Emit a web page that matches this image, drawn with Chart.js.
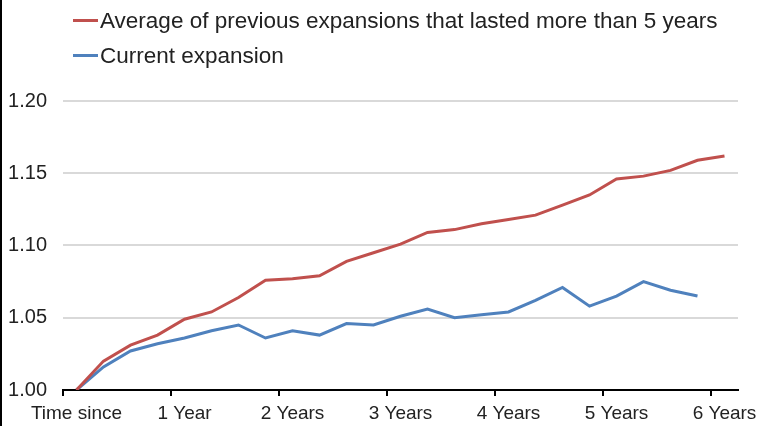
<!DOCTYPE html>
<html>
<head>
<meta charset="utf-8">
<script src="https://cdn.jsdelivr.net/npm/chart.js@4"></script>
<style>
  html, body { margin: 0; padding: 0; background: #fff; }
  #wrap { position: relative; width: 759px; height: 426px; }
  #edge { position: absolute; left: 0; top: 0; width: 2px; height: 426px; background: #000; }
  #legend { position: absolute; left: 73px; top: 3px; font-family: 'Liberation Sans', Arial, sans-serif; font-size: 22.5px; color: #222; }
  .item { display: flex; align-items: center; height: 35px; }
  .swatch { display: inline-block; width: 25px; height: 3px; margin-right: 2px; }
</style>
</head>
<body>
<div id="wrap">
  <canvas id="expansion-chart" width="759" height="426"></canvas>
  <div id="legend"></div>
  <div id="edge"></div>
</div>
<script>
// Quarters since the start of the expansion (0..24)
const quarterLabels = ['Time since', '', '', '', '1 Year', '', '', '', '2 Years', '', '', '', '3 Years',
  '', '', '', '4 Years', '', '', '', '5 Years', '', '', '', '6 Years'];

// Average of previous expansions that lasted more than 5 years
const previousAvg = [1.000, 1.020, 1.031, 1.038, 1.049, 1.054, 1.064, 1.076, 1.077, 1.079, 1.089,
  1.095, 1.101, 1.109, 1.111, 1.115, 1.118, 1.121, 1.128, 1.135, 1.146, 1.148, 1.152, 1.159, 1.162];

// Current expansion
const currentExp = [1.000, 1.016, 1.027, 1.032, 1.036, 1.041, 1.045, 1.036, 1.041, 1.038, 1.046,
  1.045, 1.051, 1.056, 1.050, 1.052, 1.054, 1.062, 1.071, 1.058, 1.065, 1.075, 1.069, 1.065, null];

const seriesNames = ['Average of previous expansions that lasted more than 5 years', 'Current expansion'];
const seriesColors = ['#c0504d', '#4f81bd'];

// simple legend stacked on two rows, like the original
const legendEl = document.getElementById('legend');
seriesNames.forEach(function(name, i) {
  const row = document.createElement('div');
  row.className = 'item';
  row.innerHTML = '<span class="swatch" style="background:' + seriesColors[i] + '"></span>' + name;
  legendEl.appendChild(row);
});

const ctx = document.getElementById('expansion-chart').getContext('2d');
const fontFamily = "'Liberation Sans', Arial, sans-serif";

new Chart(ctx, {
  type: 'line',
  data: {
    labels: quarterLabels,
    datasets: [
      { label: seriesNames[0], data: previousAvg, borderColor: seriesColors[0], backgroundColor: seriesColors[0],
        borderWidth: 3, pointRadius: 0, tension: 0 },
      { label: seriesNames[1], data: currentExp, borderColor: seriesColors[1], backgroundColor: seriesColors[1],
        borderWidth: 3, pointRadius: 0, tension: 0 }
    ]
  },
  options: {
    responsive: false,
    animation: false,
    layout: { padding: { top: 101, left: 7, right: 21, bottom: 0 } },
    plugins: { legend: { display: false }, tooltip: { enabled: false } },
    scales: {
      x: {
        offset: true,
        grid: {
          offset: true,
          drawOnChartArea: false,
          drawTicks: true,
          tickLength: 6,
          lineWidth: 2,
          color: function(c) { return (c.index !== undefined && c.index % 4 === 0) ? '#000' : 'rgba(0,0,0,0)'; }
        },
        border: { display: true, color: '#000', width: 2 },
        ticks: { autoSkip: false, maxRotation: 0, color: '#222', font: { family: fontFamily, size: 19 }, padding: 6 },
        // keep the first/last labels from pushing the plot inward, fix the axis height
        afterFit: function(scale) {
          scale.paddingLeft = 0;
          scale.paddingRight = 0;
          scale.height = 36;
        }
      },
      y: {
        min: 1.0,
        max: 1.2,
        grid: { color: '#d9d9d9', lineWidth: 2, drawTicks: false },
        border: { display: false },
        ticks: {
          stepSize: 0.05,
          color: '#222',
          font: { family: fontFamily, size: 20 },
          padding: 16,
          callback: function(v) { return v.toFixed(2); }
        },
        afterFit: function(scale) {
          scale.width = 56;
        }
      }
    }
  }
});
</script>
</body>
</html>
